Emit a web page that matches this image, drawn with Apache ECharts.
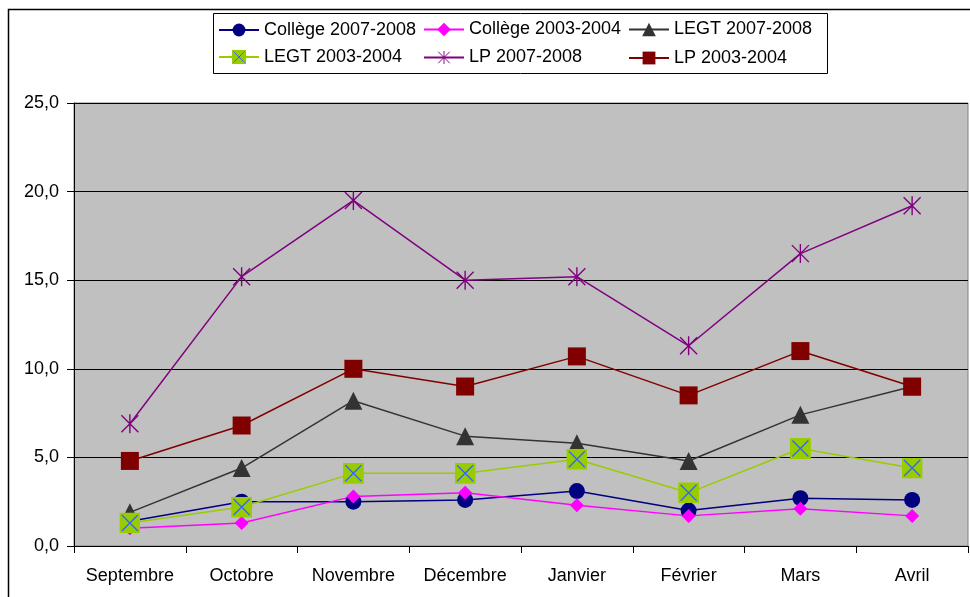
<!DOCTYPE html>
<html>
<head>
<meta charset="utf-8">
<script src="https://cdn.jsdelivr.net/npm/echarts@6/dist/echarts.min.js"></script>
<style>
html,body{margin:0;padding:0;background:#fff;}
#c{width:970px;height:597px;}
</style>
</head>
<body>
<div id="c"></div>
<script>
const categories = ['Septembre','Octobre','Novembre','Décembre','Janvier','Février','Mars','Avril'];
const seriesNames = ['Collège 2007-2008','Collège 2003-2004','LEGT 2007-2008','LEGT 2003-2004','LP 2007-2008','LP 2003-2004'];
const college0708 = [1.4, 2.5, 2.5, 2.6, 3.1, 2.0, 2.7, 2.6];
const college0304 = [1.0, 1.3, 2.8, 3.0, 2.3, 1.7, 2.1, 1.7];
const legt0708 = [1.9, 4.4, 8.2, 6.2, 5.8, 4.8, 7.4, 9.0];
const legt0304 = [1.3, 2.2, 4.1, 4.1, 4.9, 3.0, 5.5, 4.4];
const lp0708 = [6.9, 15.2, 19.5, 15.0, 15.2, 11.3, 16.5, 19.2];
const lp0304 = [4.8, 6.8, 10.0, 9.0, 10.7, 8.5, 11.0, 9.0];
const yTicks = [0, 5, 10, 15, 20, 25];

const greenSym = 'image://data:image/svg+xml;charset=utf-8,' + encodeURIComponent(
  "<svg xmlns='http://www.w3.org/2000/svg' width='21' height='21' viewBox='0 0 21 21'><rect width='21' height='21' fill='#99CC00'/><path d='M2.5,2.5L18.5,18.5M18.5,2.5L2.5,18.5' stroke='#3366FF' stroke-width='1.4' fill='none'/></svg>");
const starSym = 'image://data:image/svg+xml;charset=utf-8,' + encodeURIComponent(
  "<svg xmlns='http://www.w3.org/2000/svg' width='20' height='20' viewBox='0 0 20 20'><path d='M1.5,1.5L18.5,18.5M18.5,1.5L1.5,18.5M10,0.5L10,19.5' stroke='#800080' stroke-width='1.4' fill='none'/></svg>");

const dataSets = [college0708, college0304, legt0708, legt0304, lp0708, lp0304];
const colors = ['#000080','#FF00FF','#333333','#99CC00','#800080','#800000'];
const symbols = ['circle','diamond','triangle',greenSym,starSym,'rect'];
const sizes = [16, 14, 18, 21, 20, 18];
const legendSizes = [16, 17, 17, 18, 17, 16];

const legendPos = [[218,29],[423,29],[628,29],[218,57],[423,57],[628,57]];

const chart = echarts.init(document.getElementById('c'), null, {renderer:'canvas'});
const font = 'Liberation Sans, Arial, sans-serif';

const option = {
  animation: false,
  backgroundColor: '#ffffff',
  textStyle: {fontFamily: font},
  graphic: [
    {type:'rect', shape:{x:8.5, y:9.5, width:980, height:620}, style:{fill:'none', stroke:'#000', lineWidth:1.5}, z:-1},
    {type:'rect', shape:{x:213.5, y:13.5, width:614, height:60}, style:{fill:'#fff', stroke:'#000', lineWidth:1}, z:-1}
  ],
  legend: seriesNames.map((n, i) => ({
    data: [n],
    left: legendPos[i][0],
    top: legendPos[i][1] - legendSizes[i] / 2,
    itemWidth: 40,
    itemHeight: legendSizes[i],
    padding: 0,
    selectedMode: false,
    textStyle: {fontSize: 18, color: '#000', fontFamily: font}
  })),
  grid: {left: 74, top: 103, right: 2, bottom: 51, show: true, backgroundColor: '#C0C0C0', borderColor: '#808080', borderWidth: 1, containLabel: false},
  xAxis: {
    type: 'category',
    data: categories,
    boundaryGap: true,
    axisLine: {show: true, lineStyle: {color: '#000', width: 1}},
    axisTick: {show: true, length: 7, interval: 0, lineStyle: {color: '#000'}},
    axisLabel: {fontSize: 18, color: '#000', margin: 21, interval: 0, fontFamily: font}
  },
  yAxis: {
    type: 'value',
    min: yTicks[0],
    max: yTicks[yTicks.length - 1],
    interval: 5,
    axisLine: {show: true, lineStyle: {color: '#000', width: 1}},
    axisTick: {show: true, length: 7, lineStyle: {color: '#000'}},
    axisLabel: {fontSize: 18, color: '#000', margin: 15, fontFamily: font,
      formatter: v => v.toFixed(1).replace('.', ',')},
    splitLine: {show: true, lineStyle: {color: '#000', width: 1}}
  },
  series: seriesNames.map((n, i) => ({
    name: n,
    type: 'line',
    data: dataSets[i],
    symbol: symbols[i],
    symbolSize: sizes[i],
    showAllSymbol: true,
    lineStyle: {color: colors[i], width: 1.5},
    itemStyle: {color: colors[i], borderWidth: 0}
  }))
};
chart.setOption(option);
</script>
</body>
</html>
